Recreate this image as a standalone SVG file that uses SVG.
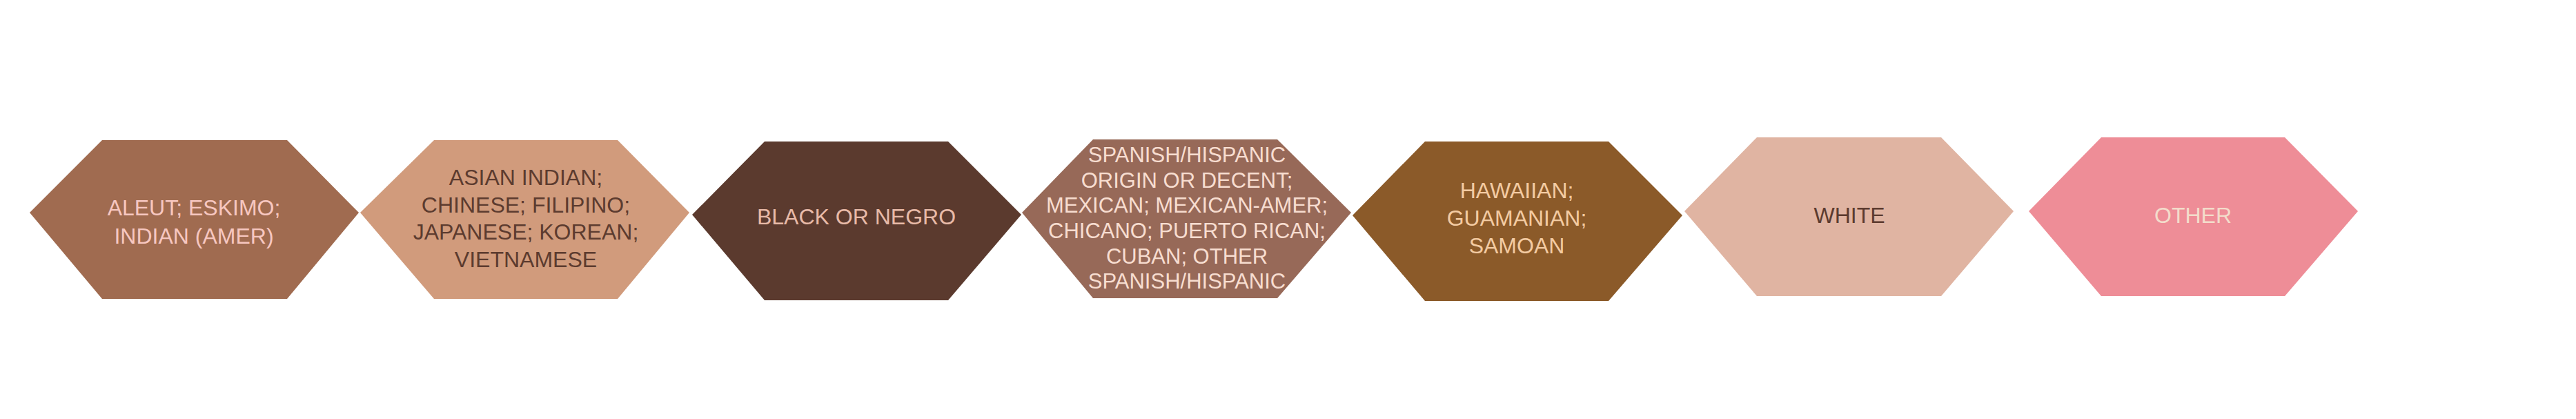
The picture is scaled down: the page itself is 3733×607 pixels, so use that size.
<svg xmlns="http://www.w3.org/2000/svg" width="3733" height="607" viewBox="0 0 3733 607">
<style>
.t{font-family:"Liberation Sans",Arial,sans-serif;font-size:32px;text-anchor:middle}
.s{font-size:31px}
</style>
<rect width="3733" height="607" fill="#ffffff"/>
<g id="connectors"></g>
<g id="n1">
<polygon points="43,308 148,203 416,203 520,308 416,433 148,433" fill="#A06B50"/>
<text class="t" fill="#F7C7C0" x="281" y="312">ALEUT; ESKIMO;</text>
<text class="t" fill="#F7C7C0" x="281" y="353">INDIAN (AMER)</text>
</g>
<g id="n2">
<polygon points="522,308 629,203 895,203 999,308 895,433 629,433" fill="#D19B7C"/>
<text class="t" fill="#5C3B2F" x="762" y="268">ASIAN INDIAN;</text>
<text class="t" fill="#5C3B2F" x="762" y="308">CHINESE; FILIPINO;</text>
<text class="t" fill="#5C3B2F" x="762" y="347">JAPANESE; KOREAN;</text>
<text class="t" fill="#5C3B2F" x="762" y="387">VIETNAMESE</text>
</g>
<g id="n3">
<polygon points="1003,311 1108,205 1374,205 1480,311 1374,435 1108,435" fill="#5B3A2E"/>
<text class="t" fill="#E8BAA8" x="1241" y="325">BLACK OR NEGRO</text>
</g>
<g id="n4">
<polygon points="1481,308 1584,202 1851,202 1958,308 1851,432 1584,432" fill="#976958"/>
<text class="t s" fill="#F7DDD0" x="1720" y="235">SPANISH/HISPANIC</text>
<text class="t s" fill="#F7DDD0" x="1720" y="272">ORIGIN OR DECENT;</text>
<text class="t s" fill="#F7DDD0" x="1720" y="308">MEXICAN; MEXICAN-AMER;</text>
<text class="t s" fill="#F7DDD0" x="1720" y="345">CHICANO; PUERTO RICAN;</text>
<text class="t s" fill="#F7DDD0" x="1720" y="382">CUBAN; OTHER</text>
<text class="t s" fill="#F7DDD0" x="1720" y="418">SPANISH/HISPANIC</text>
</g>
<g id="n5">
<polygon points="1960,312 2065,205 2331,205 2438,312 2331,436 2065,436" fill="#8B5A29"/>
<text class="t" fill="#F3CBA2" x="2198" y="287">HAWAIIAN;</text>
<text class="t" fill="#F3CBA2" x="2198" y="327">GUAMANIAN;</text>
<text class="t" fill="#F3CBA2" x="2198" y="367">SAMOAN</text>
</g>
<g id="n6">
<polygon points="2441,306 2546,199 2813,199 2918,306 2813,429 2546,429" fill="#E0B4A2"/>
<text class="t" fill="#5C3B2F" x="2680" y="323">WHITE</text>
</g>
<g id="n7">
<polygon points="2940,306 3045,199 3311,199 3417,306 3311,429 3045,429" fill="#EE8D97"/>
<text class="t" fill="#F3DCCB" x="3178" y="323">OTHER</text>
</g>
</svg>
